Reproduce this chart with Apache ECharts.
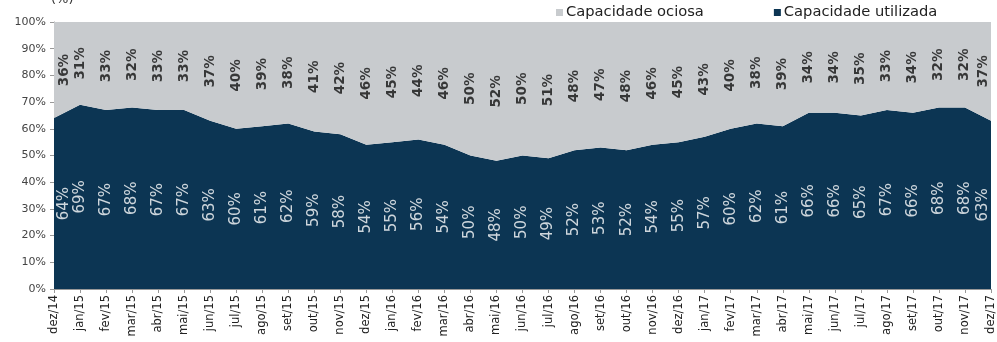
<!DOCTYPE html>
<html>
<head>
<meta charset="utf-8">
<script src="https://cdn.jsdelivr.net/npm/echarts@6/dist/echarts.min.js"></script>
<style>
  html, body { margin: 0; padding: 0; background: #fff; }
  #chart { width: 997px; height: 342px; }
</style>
</head>
<body>
<div id="chart"></div>
<script>
// meses de dez/14 a dez/17
var months = ['dez/14', 'jan/15', 'fev/15', 'mar/15', 'abr/15', 'mai/15', 'jun/15', 'jul/15', 'ago/15', 'set/15', 'out/15', 'nov/15',
  'dez/15', 'jan/16', 'fev/16', 'mar/16', 'abr/16', 'mai/16', 'jun/16', 'jul/16', 'ago/16', 'set/16', 'out/16', 'nov/16',
  'dez/16', 'jan/17', 'fev/17', 'mar/17', 'abr/17', 'mai/17', 'jun/17', 'jul/17', 'ago/17', 'set/17', 'out/17', 'nov/17', 'dez/17'];
var utilizada = [64, 69, 67, 68, 67, 67, 63, 60, 61, 62, 59, 58, 54, 55, 56, 54, 50, 48, 50, 49, 52, 53, 52, 54, 55, 57, 60, 62, 61, 66, 66, 65, 67, 66, 68, 68, 63];
var ociosa = [36, 31, 33, 32, 33, 33, 37, 40, 39, 38, 41, 42, 46, 45, 44, 46, 50, 52, 50, 51, 48, 47, 48, 46, 45, 43, 40, 38, 39, 34, 34, 35, 33, 34, 32, 32, 37];
var yTicks = [0, 10, 20, 30, 40, 50, 60, 70, 80, 90, 100];

var corUtil = '#0c3553';
var corOcio = '#c8cbce';
var fonte = 'DejaVu Sans';

// pontos no meio de cada área para os rótulos; nas pontas o rótulo entra um pouco
// (offset no sistema do texto girado: o 2º valor anda na horizontal)
function pontoRotulo(i, y, v) {
  var item = { value: [i, y, v] };
  if (i === 0) item.label = { offset: [0, 10] };
  if (i === months.length - 1) item.label = { offset: [0, -8] };
  return item;
}
var meioUtil = utilizada.map(function (v, i) { return pontoRotulo(i, v / 2, v); });
var meioOcio = ociosa.map(function (v, i) { return pontoRotulo(i, utilizada[i] + v / 2, v); });

var chart = echarts.init(document.getElementById('chart'));
chart.setOption({
  animation: false,
  title: {
    text: '(%)',
    left: 46, top: -12,
    textStyle: { fontFamily: fonte, fontSize: 13, fontWeight: 'normal', color: '#333' }
  },
  legend: {
    data: ['Capacidade ociosa', 'Capacidade utilizada'],
    left: 551, top: 0,
    itemWidth: 7, itemHeight: 7, itemGap: 70,
    icon: 'rect',
    textStyle: { fontFamily: fonte, fontSize: 14.7, color: '#222', padding: [0, 0, 0, -2] }
  },
  grid: { left: 54, right: 2, top: 22, bottom: 53 },
  xAxis: {
    type: 'category',
    data: months,
    boundaryGap: false,
    axisLine: { lineStyle: { color: '#999' } },
    axisTick: { interval: 0, length: 4, lineStyle: { color: '#999' } },
    axisLabel: { interval: 0, rotate: 90, margin: 6, fontFamily: fonte, fontSize: 11.5, color: '#222' }
  },
  yAxis: {
    type: 'value',
    min: 0, max: 100, interval: 10,
    axisLine: { show: true, lineStyle: { color: '#999' } },
    axisTick: { show: true, length: 4, lineStyle: { color: '#999' } },
    splitLine: { show: false },
    axisLabel: {
      margin: 8, fontFamily: fonte, fontSize: 11, color: '#444',
      formatter: function (v) { return yTicks.indexOf(v) >= 0 ? v + '%' : ''; }
    }
  },
  series: [
    {
      name: 'Capacidade utilizada',
      type: 'line',
      stack: 'total',
      data: utilizada,
      symbol: 'none',
      lineStyle: { width: 0 },
      itemStyle: { color: corUtil },
      areaStyle: { color: corUtil, opacity: 1 }
    },
    {
      name: 'Capacidade ociosa',
      type: 'line',
      stack: 'total',
      data: ociosa,
      symbol: 'none',
      lineStyle: { width: 0 },
      itemStyle: { color: corOcio },
      areaStyle: { color: corOcio, opacity: 1 }
    },
    {
      type: 'scatter',
      data: meioUtil,
      symbolSize: 1,
      itemStyle: { color: 'rgba(0,0,0,0)' },
      z: 10,
      silent: true,
      label: {
        show: true, position: 'inside', rotate: 90,
        fontFamily: fonte, fontSize: 15, color: '#fff',
        formatter: function (p) { return p.value[2] + '%'; }
      }
    },
    {
      type: 'scatter',
      data: meioOcio,
      symbolSize: 1,
      itemStyle: { color: 'rgba(0,0,0,0)' },
      z: 10,
      silent: true,
      label: {
        show: true, position: 'inside', rotate: 90,
        fontFamily: fonte, fontSize: 13.5, fontWeight: 'bold', color: '#111',
        formatter: function (p) { return p.value[2] + '%'; }
      }
    }
  ]
});
</script>
</body>
</html>
